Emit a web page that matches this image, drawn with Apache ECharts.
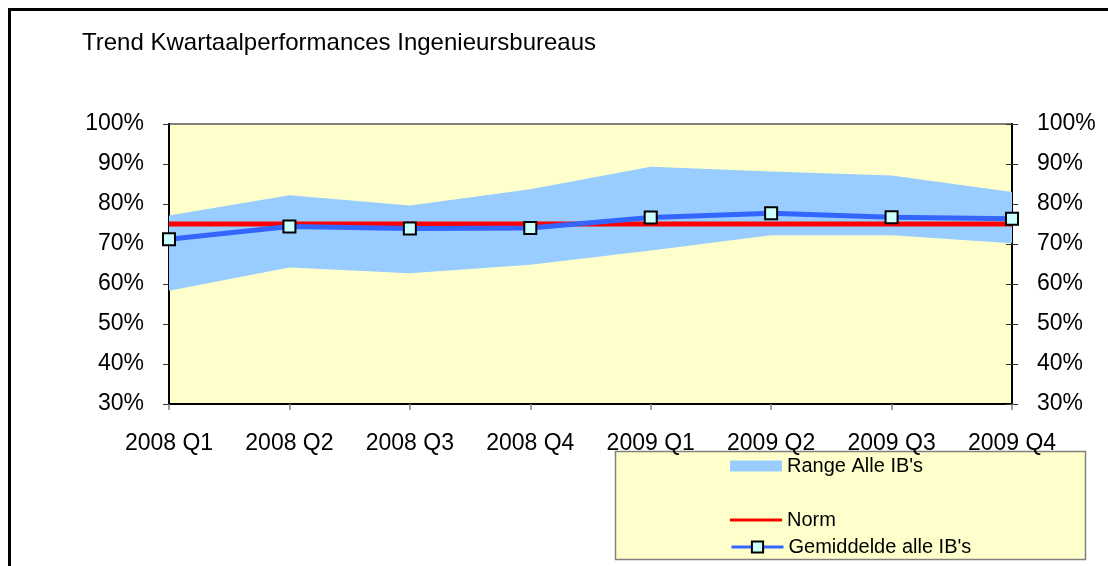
<!DOCTYPE html>
<html>
<head>
<meta charset="utf-8">
<script src="https://cdn.jsdelivr.net/npm/echarts@6/dist/echarts.min.js"></script>
<style>
html,body{margin:0;padding:0;background:#fff;}
#chart{width:1108px;height:566px;}
</style>
</head>
<body>
<div id="chart"></div>
<script>
var titleText = 'Trend Kwartaalperformances Ingenieursbureaus';
var categories = ['2008 Q1','2008 Q2','2008 Q3','2008 Q4','2009 Q1','2009 Q2','2009 Q3','2009 Q4'];
var rangeLow  = [58.3, 64.1, 62.7, 64.8, 68.4, 72.2, 72.2, 70.2];
var rangeHigh = [77.1, 82.2, 79.6, 83.7, 89.3, 88.1, 87.1, 83.0];
var normValues = [75, 75, 75, 75, 75, 75, 75, 75];
var avgValues = [71.2, 74.4, 73.9, 74.0, 76.6, 77.7, 76.7, 76.3];
var yTicks = {min: 30, max: 100, interval: 10};

var rangeSpan = rangeHigh.map(function (h, i) { return +(h - rangeLow[i]).toFixed(2); });

var FONT = "'Liberation Sans', Arial, sans-serif";
var chart = echarts.init(document.getElementById('chart'), null, {renderer: 'canvas'});

var yLabel = {fontSize: 23, color: '#000', fontFamily: FONT, formatter: '{value}%'};
var legendText = {fontSize: 20, color: '#000', fontFamily: FONT};

chart.setOption({
  animation: false,
  backgroundColor: '#ffffff',
  title: {
    text: titleText, left: 77, top: 26,
    textStyle: {fontSize: 24, fontWeight: 'normal', color: '#000', fontFamily: FONT}
  },
  graphic: [
    {type: 'rect', z: 100, shape: {x: 9.5, y: 9.5, width: 1110, height: 600},
     style: {fill: 'none', stroke: '#000', lineWidth: 3}},
    {type: 'rect', z: 0, shape: {x: 615.5, y: 451.5, width: 470, height: 108},
     style: {fill: '#FFFFCC', stroke: '#808080', lineWidth: 1.5}}
  ],
  legend: [
    {
      data: [{name: "Range Alle IB's", icon: 'rect', itemStyle: {color: '#99CCFF', borderWidth: 0}}],
      left: 730, top: 456, padding: 0, itemWidth: 52, itemHeight: 11,
      textStyle: legendText, selectedMode: false
    },
    {
      data: [{name: 'Norm', icon: 'path://M0,0 L52,0 L52,3 L0,3 Z', itemStyle: {color: '#FF0000', borderWidth: 0}}],
      left: 730, top: 510, padding: 0, itemWidth: 52, itemHeight: 3,
      textStyle: legendText, selectedMode: false
    },
    {
      data: [{name: "Gemiddelde alle IB's", lineStyle: {width: 3}}],
      left: 730, top: 537, padding: 0, itemWidth: 52, itemHeight: 14,
      textStyle: legendText, selectedMode: false
    }
  ],
  grid: {
    left: 169, right: 96, top: 124, bottom: 162,
    show: true, backgroundColor: '#FFFFCC', borderColor: '#808080', borderWidth: 2
  },
  xAxis: {
    type: 'category', data: categories, boundaryGap: false,
    axisLine: {show: true, lineStyle: {color: '#000', width: 2}},
    axisTick: {show: true, length: 6, lineStyle: {color: '#808080', width: 1.5}, alignWithLabel: true},
    axisLabel: {fontSize: 23, color: '#000', fontFamily: FONT, margin: 28, interval: 0},
    splitLine: {show: false}
  },
  yAxis: [
    {
      type: 'value', position: 'left', min: yTicks.min, max: yTicks.max, interval: yTicks.interval,
      axisLine: {show: true, lineStyle: {color: '#000', width: 2}},
      axisTick: {show: true, length: 6, lineStyle: {color: '#333', width: 1}},
      axisLabel: Object.assign({margin: 25}, yLabel),
      splitLine: {show: false}
    },
    {
      type: 'value', position: 'right', min: yTicks.min, max: yTicks.max, interval: yTicks.interval,
      axisLine: {show: true, lineStyle: {color: '#000', width: 2}},
      axisTick: {show: true, length: 6, lineStyle: {color: '#333', width: 1}},
      axisLabel: Object.assign({margin: 25}, yLabel),
      splitLine: {show: false}
    },
    {
      type: 'value', position: 'right', min: yTicks.min, max: yTicks.max, interval: yTicks.interval,
      axisLine: {show: false},
      axisTick: {show: true, inside: true, length: 6, lineStyle: {color: '#333', width: 1}},
      axisLabel: {show: false},
      splitLine: {show: false}
    }
  ],
  series: [
    {
      name: 'rangeBase', type: 'line', stack: 'range', data: rangeLow,
      symbol: 'none', lineStyle: {width: 0, opacity: 0}, silent: true, z: 1
    },
    {
      name: "Range Alle IB's", type: 'line', stack: 'range', data: rangeSpan,
      symbol: 'none', lineStyle: {width: 0, opacity: 0},
      areaStyle: {color: '#99CCFF', opacity: 1}, itemStyle: {color: '#99CCFF'}, silent: true, z: 1
    },
    {
      name: 'Norm', type: 'line', data: normValues, symbol: 'none',
      lineStyle: {color: '#FF0000', width: 5}, itemStyle: {color: '#FF0000'}, z: 2
    },
    {
      name: "Gemiddelde alle IB's", type: 'line', data: avgValues,
      symbol: 'rect', symbolSize: 12, showAllSymbol: true,
      lineStyle: {color: '#3366FF', width: 5},
      itemStyle: {color: '#CCFFFF', borderColor: '#000', borderWidth: 2},
      z: 3
    }
  ]
});
</script>
</body>
</html>
